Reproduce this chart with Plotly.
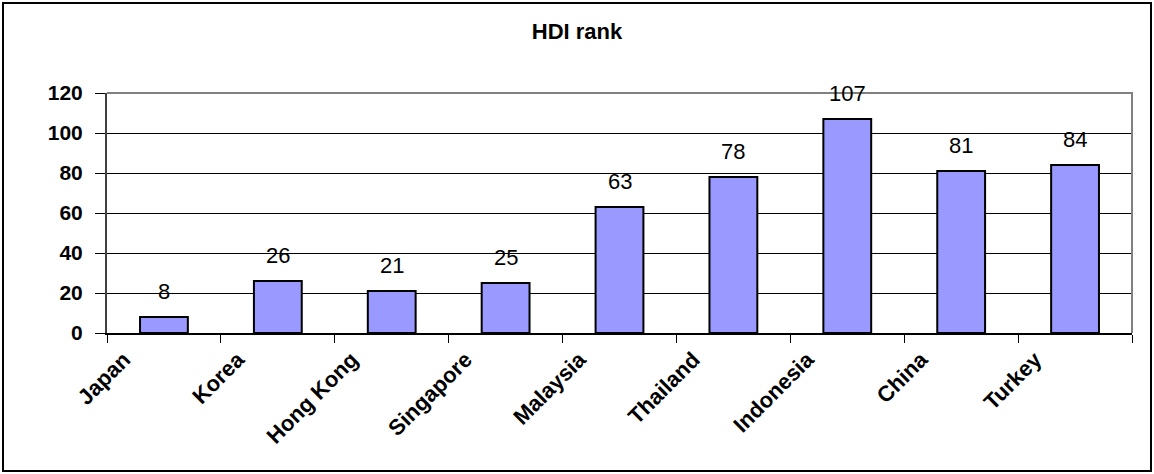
import plotly.graph_objects as go

countries = ["Japan", "Korea", "Hong Kong", "Singapore", "Malaysia",
             "Thailand", "Indonesia", "China", "Turkey"]
hdi_rank = [8, 26, 21, 25, 63, 78, 107, 81, 84]
y_ticks = [0, 20, 40, 60, 80, 100, 120]

W, H = 1154, 474
L, R, T, B = 107, 22, 93, 141
pw, ph = W - L - R, H - T - B
FONT = "Liberation Sans, Arial, sans-serif"

fig = go.Figure()
fig.add_trace(go.Bar(
    x=countries, y=hdi_rank, width=0.42,
    marker=dict(color="#9999FF", line=dict(color="black", width=2)),
    hoverinfo="x+y", showlegend=False,
))

for c, v in zip(countries, hdi_rank):
    fig.add_annotation(x=c, y=v, text=str(v), showarrow=False,
                       yanchor="bottom", yshift=11,
                       font=dict(family=FONT, size=22, color="black"))

def px_x(p):
    return (p - L) / pw

def px_y(p):
    return (H - B - p) / ph

shapes = [
    # plot area border, top and right (gray)
    dict(type="path", xref="paper", yref="paper", path="M 0,1 L 1,1 L 1,0",
         line=dict(color="#808080", width=2), layer="above"),
    # outer chart frame
    dict(type="rect", xref="paper", yref="paper",
         x0=px_x(3), x1=px_x(1151), y0=px_y(471), y1=px_y(3),
         line=dict(color="black", width=2)),
]

fig.update_layout(
    width=W, height=H,
    margin=dict(l=L, r=R, t=T, b=B, autoexpand=False),
    paper_bgcolor="white", plot_bgcolor="white",
    title=dict(text="<b>HDI rank</b>", x=0.5, xanchor="center",
               y=1 - 31 / H, yanchor="middle", yref="container",
               font=dict(family=FONT, size=22, color="black")),
    shapes=shapes,
    xaxis=dict(
        type="category", tickson="boundaries", ticks="outside", ticklen=8,
        tickcolor="black", tickwidth=1,
        showline=True, linecolor="black", linewidth=2, mirror=False,
        showgrid=False, tickangle=-45, ticklabelshift=-40, ticklabelstandoff=3,
        tickfont=dict(family=FONT, size=22, color="black", weight="bold"),
        range=[-0.5, len(countries) - 0.5], fixedrange=True,
    ),
    yaxis=dict(
        range=[0, 120], tickvals=y_ticks, ticks="outside", ticklen=10,
        tickcolor="black", tickwidth=1,
        showline=True, linecolor="#404040", linewidth=2,
        showgrid=True, gridcolor="black", gridwidth=1,
        zeroline=False, ticklabelstandoff=8,
        tickfont=dict(family=FONT, size=21, color="black", weight="bold"),
        fixedrange=True,
    ),
)

fig.write_html(
    "out.html",
    config={"displayModeBar": False},
    post_script="document.body.style.margin='0';document.body.style.overflow='hidden';",
)
